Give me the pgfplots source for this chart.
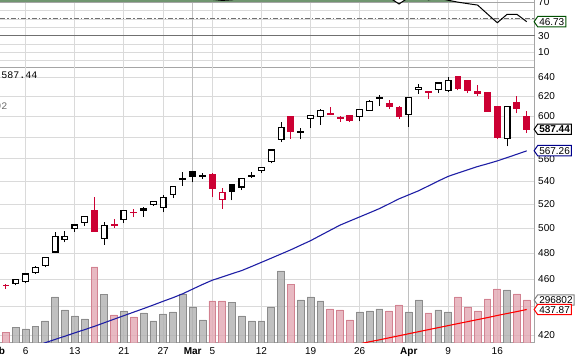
\documentclass[border=0pt]{standalone}
\usepackage{pgfplots}
\pgfplotsset{compat=1.18}
\usepackage{pgfplotstable}
\usepackage{fontspec}
\setmainfont{Liberation Sans}
\newfontfamily\monofont{Liberation Mono}
\usetikzlibrary{shapes.symbols}

\definecolor{cred}{RGB}{204,0,51}
\definecolor{gridgray}{RGB}{218,218,218}
\definecolor{monthgray}{RGB}{192,192,192}
\definecolor{framegray}{RGB}{165,165,165}
\definecolor{volgray}{RGB}{176,176,176}
\definecolor{volgrayedge}{RGB}{140,140,140}
\definecolor{volred}{RGB}{226,168,179}
\definecolor{volrededge}{RGB}{210,130,145}
\definecolor{manavy}{RGB}{30,30,165}
\definecolor{rsigreen}{RGB}{112,150,112}
\definecolor{rsigray}{RGB}{112,112,112}
\definecolor{taggreen}{RGB}{0,80,0}
\definecolor{tagnavy}{RGB}{0,0,140}

% candles: index, open, high, low, close
\pgfplotstableread{
i O H L C
2 457.0 460.5 455.5 459.7
3 458.4 464.9 456.9 464.0
4 465.3 469.8 464.0 468.8
5 470.5 476.8 469.0 476.7
6 481.0 496.8 480.0 493.2
7 491.0 497.6 488.6 493.4
8 499.5 503.8 497.1 502.6
9 504.7 509.6 502.0 509.5
11 491.5 504.9 486.6 502.2
13 506.9 514.9 504.1 514.8
15 515.1 517.8 509.5 516.4
16 519.7 522.9 518.6 522.4
17 517.1 528.0 513.0 525.8
18 528.0 535.5 525.2 535.4
19 541.6 547.6 535.7 542.4
21 544.2 546.8 542.0 545.2
25 534.7 543.0 532.1 542.0
26 544.2 547.7 543.1 545.2
27 549.0 552.0 547.0 552.0
28 557.5 568.2 555.8 568.1
29 578.1 594.7 575.4 589.6
31 584.7 589.2 578.0 585.6
32 598.4 601.8 589.1 601.1
33 599.8 606.9 591.5 606.0
37 599.8 607.2 595.3 607.0
38 606.2 616.3 606.0 614.5
42 601.8 618.8 590.0 618.6
43 627.3 632.2 622.5 629.3
45 627.0 634.7 623.4 633.7
46 626.1 639.9 624.3 636.2
52 578.9 610.0 571.5 609.7
}\hollowblack

\pgfplotstableread{
i O H L C
20 548.2 548.2 538.8 544.5
24 536.8 537.8 523.3 530.7
39 618.4 621.5 610.3 617.6
}\filledblack

\pgfplotstableread{
i O H L C
23 523.7 533.7 516.2 530.3
35 597.8 600.9 595.0 599.3
}\hollowred

\pgfplotstableread{
i O H L C
1 455.6 456.6 453.0 455.1
10 514.3 526.3 496.9 497.7
12 503.1 507.8 500.3 502.1
14 513.1 515.5 509.1 513.0
22 545.4 547.5 526.0 533.2
30 599.6 600.0 578.6 585.6
34 602.7 609.7 601.4 602.5
36 600.5 601.8 594.4 596.1
40 612.8 616.6 607.2 609.9
41 608.8 610.6 597.9 599.6
44 624.4 625.9 617.0 624.3
47 639.9 640.0 626.0 628.4
48 636.2 636.9 623.3 626.2
49 625.0 631.8 620.0 622.8
50 624.1 624.7 604.6 605.2
51 610.1 610.3 578.3 580.1
53 613.7 619.9 603.0 608.3
54 600.2 604.9 584.0 587.4
}\filledred

\newcommand{\candles}[3]{%
  \pgfplotstablegetrowsof{#1}%
  \pgfmathtruncatemacro{\lastrow}{\pgfplotsretval-1}%
  \pgfplotsforeachungrouped \rowidx in {0,...,\lastrow}{%
    \pgfplotstablegetelem{\rowidx}{i}\of#1\let\ci\pgfplotsretval
    \pgfplotstablegetelem{\rowidx}{O}\of#1\let\co\pgfplotsretval
    \pgfplotstablegetelem{\rowidx}{H}\of#1\let\chh\pgfplotsretval
    \pgfplotstablegetelem{\rowidx}{L}\of#1\let\cll\pgfplotsretval
    \pgfplotstablegetelem{\rowidx}{C}\of#1\let\ccl\pgfplotsretval
    \pgfmathsetmacro{\xl}{\ci-0.29}%
    \pgfmathsetmacro{\xr}{\ci+0.29}%
    \edef\doplot{%
      \noexpand\addplot[#2, line width=1pt, forget plot] coordinates {(\ci,\cll) (\ci,\chh)};
      \noexpand\addplot[draw=#2, fill=#3, line width=1.2pt, forget plot] coordinates {(\xl,\co) (\xr,\co) (\xr,\ccl) (\xl,\ccl)} -- cycle;
    }\doplot
  }%
}

\pgfplotsset{panel/.style={scale only axis, width=535pt, xmin=0.39, xmax=54.84, anchor=south west}}

\begin{document}
\begin{tikzpicture}[font=\fontsize{10}{12}\selectfont]
\path[use as bounding box] (0pt,0pt) rectangle (582pt,358pt);
\clip (0pt,0pt) rectangle (582pt,358pt);

% ---- RSI panel grid ----
\begin{axis}[panel, at={(0pt,290.7pt)}, height=67.3pt, ymin=-8, ymax=72.8,
  axis x line*=bottom, axis y line*=right,
  axis line style={framegray, line width=1pt},
  xtick={3,8,13,17,22,27,32,37,46,51}, xticklabels={},
  extra x ticks={20,42}, extra x tick labels={},
  extra x tick style={grid=major, major grid style={draw=monthgray, line width=1pt}},
  ytick={0,10,20,30,40,50,60,70}, yticklabels={,10,,30,,,,70},
  xmajorgrids, ymajorgrids, major grid style={draw=gridgray, line width=0.8pt},
  major tick length=0pt, tick style={draw=none},
  yticklabel style={anchor=west, inner sep=0pt, xshift=3pt}]
\draw[rsigray, line width=1pt] (axis cs:0.39,30) -- (axis cs:54.84,30);
\draw[rsigray, line width=1pt, dash pattern=on 5pt off 2pt on 1.5pt off 2pt] (axis cs:0.39,50) -- (axis cs:54.84,50);
\end{axis}

% ---- RSI above 70 fill ----
\begin{axis}[panel, at={(0pt,355.67pt)}, height=2.33pt, ymin=70, ymax=72.8, hide axis]
\addplot[fill=rsigreen, draw=none] coordinates {
(0,78) (1,77) (2,79) (3,80) (4,81) (5,83) (6,86) (7,86) (8,87) (9,88)
(10,78) (11,80) (12,80) (13,82) (14,81) (15,82) (16,83) (17,84) (18,85) (19,86)
(20,85) (21,85) (22,73.5) (23,72.3) (24,73) (25,76) (26,77) (27,78) (28,81) (29,84)
(30,80) (31,80) (32,82) (33,83) (34,82) (35,80) (36,78) (37,80) (38,81) (39,80)
(40,76) (41,68) (42,76) (43,78) (44,73) (45,75) (46,72.5) (47,70.2) (48,68.4) (49,66.7)
(50,56) (51,45.5) (52,55.6) (53,55.6) (54,46.73)} \closedcycle;
\end{axis}

% ---- RSI line ----
\begin{axis}[panel, at={(0pt,290.7pt)}, height=67.3pt, ymin=-8, ymax=72.8, hide axis]
\draw[gray!70, line width=0.8pt] (axis cs:0.39,70) -- (axis cs:54.84,70);
\addplot[black, line width=1pt] coordinates {
(0,78) (1,77) (2,79) (3,80) (4,81) (5,83) (6,86) (7,86) (8,87) (9,88)
(10,78) (11,80) (12,80) (13,82) (14,81) (15,82) (16,83) (17,84) (18,85) (19,86)
(20,85) (21,85) (22,73.5) (23,72.3) (24,73) (25,76) (26,77) (27,78) (28,81) (29,84)
(30,80) (31,80) (32,82) (33,83) (34,82) (35,80) (36,78) (37,80) (38,81) (39,80)
(40,76) (41,68) (42,76) (43,78) (44,73) (45,75) (46,72.5) (47,70.2) (48,68.4) (49,66.7)
(50,56) (51,45.5) (52,55.6) (53,55.6) (54,46.73)};
\end{axis}

% ---- price panel grid ----
\begin{axis}[panel, at={(0pt,15pt)}, height=275.7pt, ymode=log, ymin=414.6, ymax=650.2,
  axis x line*=bottom, axis y line*=right,
  axis line style={framegray, line width=1pt},
  xtick={3,8,13,17,22,27,32,37,46,51}, xticklabels={6,13,21,27,5,12,19,26,9,16},
  extra x ticks={20,42}, extra x tick labels={\textbf{Mar},\textbf{Apr}},
  extra x tick style={grid=major, major grid style={draw=monthgray, line width=1pt}},
  ytick={420,440,460,480,500,520,540,560,580,600,620,640},
  yticklabels={420,,460,480,500,520,540,560,,600,620,640},
  xmajorgrids, ymajorgrids, major grid style={draw=gridgray, line width=0.8pt},
  major tick length=0pt, tick style={draw=none},
  xticklabel style={anchor=base, inner sep=0pt, yshift=-11.3pt},
  yticklabel style={anchor=west, inner sep=0pt, xshift=3pt}]
\end{axis}

% ---- volume ----
\begin{axis}[panel, at={(0pt,15pt)}, height=275.7pt, ymin=0, ymax=1903000, hide axis]
\addplot[ybar, bar width=6.8pt, bar shift=0pt, fill=volgray, draw=volgrayedge, line width=0.8pt, fill opacity=0.8] coordinates {
(2,110400) (3,96600) (4,117300) (5,151900) (6,317500) (7,227800) (8,186400) (9,165700)
(11,336100) (13,220900) (15,207100) (16,151900) (17,200200) (18,214000) (19,338200)
(20,248500) (21,158800) (24,280900) (25,186400) (26,151900) (27,151900) (28,248500)
(29,497000) (31,296800) (32,317500) (33,289900) (37,214000) (38,220900) (39,234700)
(42,214000) (43,296800) (45,227800) (46,214000) (52,365800)};
\addplot[ybar, bar width=6.8pt, bar shift=0pt, fill=volred, draw=volrededge, line width=0.8pt, fill opacity=0.8] coordinates {
(1,73900) (10,524600) (12,193300) (14,179500) (22,289900) (23,289900) (30,407200)
(34,234700) (35,227800) (36,158800) (40,220900) (41,262300) (44,207100) (47,317500)
(48,248500) (49,220900) (50,303700) (51,372700) (53,338200) (54,296802)};
\end{axis}

% ---- price plots ----
\begin{axis}[panel, at={(0pt,15pt)}, height=275.7pt, ymode=log, ymin=414.6, ymax=650.2, hide axis]
\addplot[manavy, line width=1.1pt] coordinates {
(0,403.5) (1,405.7) (2,408.0) (3,410.2) (4,412.5) (5,414.8) (6,417.0) (7,419.2) (8,421.5) (9,423.7)
(10,426.0) (11,428.5) (12,431.0) (13,433.5) (14,436.0) (15,438.5) (16,441.1) (17,443.8) (18,446.4) (19,449.3)
(20,452.7) (21,456.1) (22,459.3) (23,461.7) (24,464.2) (25,466.6) (26,469.7) (27,472.9) (28,476.1) (29,479.4)
(30,482.7) (31,486.3) (32,489.9) (33,494.1) (34,498.3) (35,502.5) (36,505.9) (37,509.3) (38,512.7) (39,516.2)
(40,520.3) (41,524.5) (42,528.0) (43,531.5) (44,535.7) (45,540.0) (46,544.1) (47,547.1) (48,550.0) (49,552.9)
(50,555.4) (51,558.0) (52,561.0) (53,564.1) (54,567.26)};
\addplot[red, line width=1.1pt] coordinates {
(34,409.9) (35,411.3) (36,412.6) (37,414.0) (38,415.4) (39,416.7) (40,418.1) (41,419.5) (42,420.9) (43,422.3)
(44,423.7) (45,425.1) (46,426.5) (47,427.9) (48,429.3) (49,430.7) (50,432.1) (51,433.6) (52,435.0) (53,436.4) (54,437.87)};
\candles{\hollowblack}{black}{white}
\candles{\filledblack}{black}{black}
\candles{\hollowred}{cred}{white}
\candles{\filledred}{cred}{cred}
\end{axis}

% ---- extra labels ----
\node[anchor=base, font=\fontsize{10}{12}\selectfont\bfseries] at (-3.8pt,3.7pt) {Feb};
\node[anchor=base east, inner sep=0pt, font=\monofont\fontsize{10}{12}\selectfont] at (37.5pt,279.7pt) {587.44};
\node[anchor=base east, inner sep=0pt, text=gray!85!black, font=\monofont\fontsize{10}{12}\selectfont] at (7.5pt,248.7pt) {92};

\tikzset{tag/.style={signal, signal to=west, signal pointer angle=110, fill=white, line width=1pt,
  inner xsep=1.5pt, inner ysep=1.6pt, text height=7.2pt, text depth=0pt, anchor=west}}
\node[tag, draw=gray] at (533.5pt,58pt) {296802};
\node[tag, draw=red] at (533.5pt,48.5pt) {437.87};
\node[tag, draw=tagnavy] at (533.5pt,207.3pt) {567.26};
\node[tag, draw=black, font=\fontsize{10}{12}\selectfont\bfseries] at (533.5pt,228.7pt) {587.44};
\node[tag, draw=taggreen] at (533.5pt,336.3pt) {46.73};
\end{tikzpicture}
\end{document}
